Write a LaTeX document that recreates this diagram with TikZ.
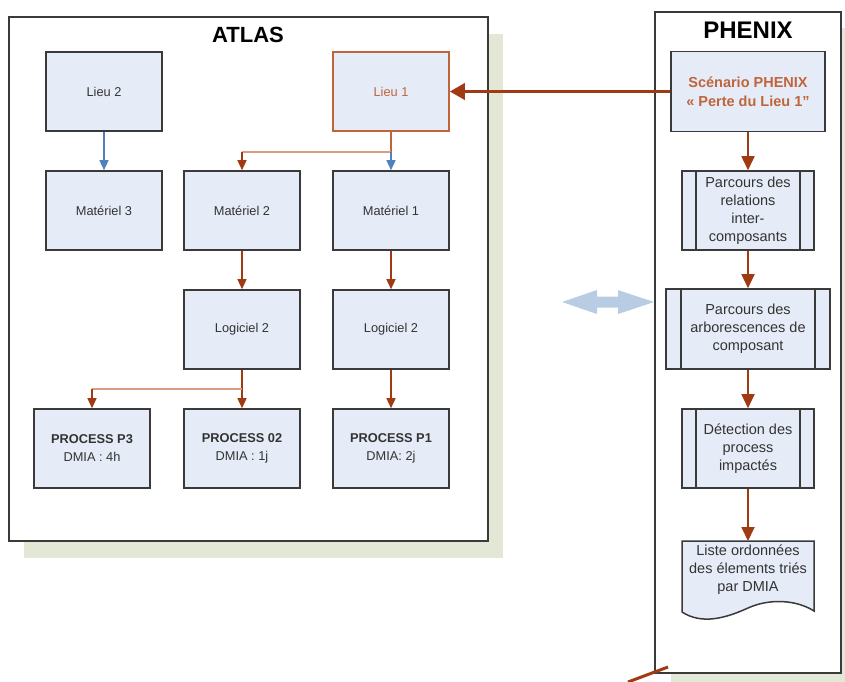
\documentclass[tikz,border=0pt]{standalone}
\usepackage{fontspec}
\setmainfont{Liberation Sans}
\usetikzlibrary{arrows.meta}
\definecolor{boxfill}{RGB}{230,236,247}
\definecolor{boxline}{RGB}{58,58,58}
\definecolor{shadowc}{RGB}{227,232,214}
\definecolor{rust}{RGB}{160,58,18}
\definecolor{lieuor}{RGB}{192,100,60}
\definecolor{lightor}{RGB}{216,156,128}
\definecolor{blueln}{RGB}{79,129,189}
\definecolor{dblue}{RGB}{184,204,228}
\definecolor{txt}{RGB}{51,51,51}
\begin{document}
\begin{tikzpicture}[x=1pt,y=-1pt,
  abox/.style={draw=boxline, fill=boxfill, line width=1.6pt, minimum width=116pt, minimum height=79pt,
    inner sep=0pt, align=center, text=txt, font=\fontsize{12.8}{18}\selectfont},
  pbox/.style={draw=boxline, fill=boxfill, line width=1.6pt, minimum width=132pt, minimum height=79pt,
    inner sep=0pt, align=center, text=txt, font=\fontsize{14.5}{18}\selectfont},
  frame/.style={draw=boxline, fill=white, line width=1.5pt},
  shad/.style={fill=shadowc, draw=none},
  sarrow/.style={draw=rust, line width=1.4pt, -{Triangle[length=10pt,width=9pt]}},
  barrow/.style={draw=blueln, line width=1.4pt, -{Triangle[length=10pt,width=9pt]}},
  parrow/.style={draw=rust, line width=1.8pt, -{Triangle[length=14pt,width=13pt]}},
]
\useasboundingbox (0,0) rectangle (845,681);
% shadows and frames
\fill[shad] (24,34) rectangle (503,558);
\fill[shad] (671,28) rectangle (857,690);
\draw[frame] (9,17) rectangle (488,541);
\draw[frame] (655,12) rectangle (841,673);
\node[font=\fontsize{22}{24}\selectfont\bfseries] (atlas) at (248,35) {ATLAS};
\node[font=\fontsize{24}{26}\selectfont\bfseries] (phenix) at (748,30) {PHENIX};

% ATLAS boxes
\node[abox] (lieu2) at (104,91.5) {Lieu 2};
\node[abox, draw=lieuor, text=lieuor] (lieu1) at (391,91.5) {Lieu 1};
\node[abox] (mat3) at (104,210.5) {Matériel 3};
\node[abox] (mat2) at (242,210.5) {Matériel 2};
\node[abox] (mat1) at (391,210.5) {Matériel 1};
\node[abox] (logl) at (242,329.5) {Logiciel 2};
\node[abox] (logr) at (391,329.5) {Logiciel 2};
\node[abox] (p3) at (92,448.5) {\textbf{PROCESS P3}\\DMIA : 4h};
\node[abox] (p02) at (242,448.5) {\textbf{PROCESS 02}\\DMIA : 1j};
\node[abox] (p1) at (391,448.5) {\textbf{PROCESS P1}\\DMIA: 2j};

% ATLAS connectors
\draw[barrow] (lieu2) -- (mat3);
\coordinate (j1) at (391,152);
\coordinate (j1l) at (242,152);
\draw[draw=lieuor, line width=1.4pt] (lieu1.south) -- (j1);
\draw[draw=lightor, line width=2pt] (j1) -- (j1l);
\draw[sarrow] (j1l) -- (mat2.north);
\draw[barrow] (j1) -- (mat1.north);
\draw[sarrow] (mat2) -- (logl);
\draw[sarrow] (mat1) -- (logr);
\coordinate (j2) at (242,389);
\coordinate (j2l) at (92,389);
\draw[sarrow] (logl) -- (p02);
\draw[draw=lightor, line width=2pt] (j2) -- (j2l);
\draw[sarrow] (j2l) -- (p3.north);
\draw[sarrow] (logr) -- (p1);

% PHENIX boxes
\node[pbox, minimum width=154pt, minimum height=80pt, text=lieuor, font=\fontsize{14.5}{19}\selectfont\bfseries] (scen) at (748,91.5) {Scénario PHENIX\\« Perte du Lieu 1"};
\node[pbox] (prel) at (748,210.5) {Parcours des\\relations\\inter-\\composants};
\node[pbox, minimum width=164pt, minimum height=80pt] (parb) at (748,329) {Parcours des\\arborescences de\\composant};
\node[pbox] (det) at (748,448.5) {Détection des\\process\\impactés};
\foreach \n/\d in {prel/15, parb/16, det/15}{
  \draw[boxline, line width=1.5pt] ([xshift=\d pt]\n.north west) -- ([xshift=\d pt]\n.south west);
  \draw[boxline, line width=1.5pt] ([xshift=-\d pt]\n.north east) -- ([xshift=-\d pt]\n.south east);
}
% document shape
\draw[boxline, fill=boxfill, line width=1.5pt] (682,541) -- (814,541) -- (814,611)
  .. controls (797,600) and (770,598) .. (748,608)
  .. controls (726,618) and (702,625) .. (682,612) -- cycle;
\node[align=center, text=txt, font=\fontsize{14.5}{18}\selectfont] (liste) at (748,570) {Liste ordonnées\\des élements triés\\par DMIA};
\coordinate (listetop) at (748,541);

% PHENIX connectors
\draw[parrow] (scen) -- (prel);
\draw[parrow] (prel) -- (parb);
\draw[parrow] (parb) -- (det);
\draw[parrow] (det.south) -- (listetop);
\draw[draw=rust, line width=3.5pt, -{Triangle[length=15pt,width=16pt]}] (scen.west) -- (lieu1.east);

% double arrow
\fill[dblue] (562,302) -- (597,290) -- (597,296.5) -- (618,296.5) -- (618,290) -- (654,302)
  -- (618,314) -- (618,307.5) -- (597,307.5) -- (597,314) -- cycle;

% bottom stray line
\coordinate (s1) at (628,682);
\coordinate (s2) at (668,667);
\draw[rust, line width=3pt] (s1) -- (s2);
\end{tikzpicture}
\end{document}
